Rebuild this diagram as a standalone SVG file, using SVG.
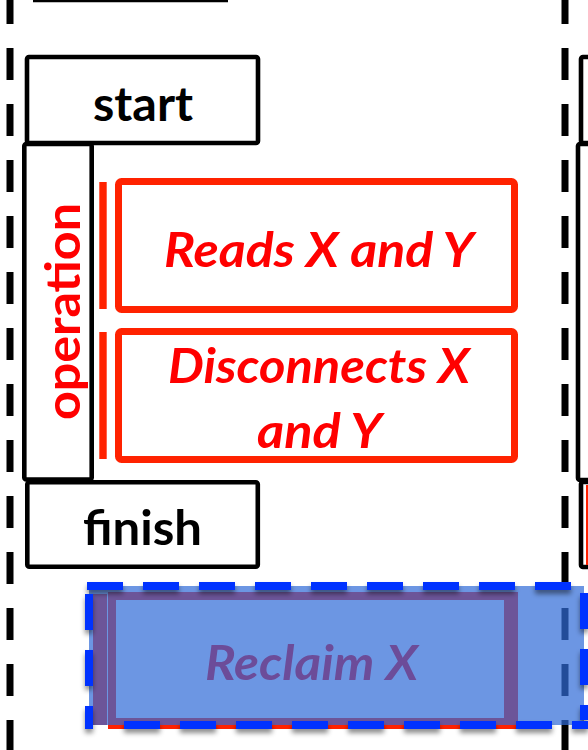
<svg xmlns="http://www.w3.org/2000/svg" width="588" height="750" viewBox="0 0 588 750">
<style>
.lane{stroke:#000;stroke-width:7;stroke-dasharray:32 24;stroke-dashoffset:8;fill:none}
.blk{fill:#fff;stroke:#000;stroke-width:4.6}
.redbox{fill:#fff;stroke:#FF2200;stroke-width:7}
.bar{fill:#FF2200}
.lbl{font-family:Lato,"Liberation Sans",sans-serif;font-weight:bold;font-size:47px;text-anchor:middle}
.it{font-style:italic;fill:#FF0000}
.bd{stroke:#0033FF;stroke-width:8;stroke-dasharray:36 20;fill:none}
</style>
<defs>
<filter id="sh" x="-10%" y="-20%" width="120%" height="150%">
<feDropShadow dx="0" dy="4" stdDeviation="2.5" flood-color="#000" flood-opacity="0.45"/>
</filter>
</defs>
<g id="lanes">
<line class="lane" x1="10" y1="0" x2="10" y2="750"/>
<line class="lane" x1="565" y1="0" x2="565" y2="750"/>
<line x1="33" y1="0" x2="228" y2="0" stroke="#000" stroke-width="4.5"/>
</g>
<g id="next-column">
<rect class="blk" x="581" y="57" width="40" height="86" rx="2"/>
<rect class="blk" x="578" y="144" width="40" height="336" rx="2"/>
<rect class="blk" x="581" y="482" width="40" height="85" rx="2"/>
<rect class="bar" x="586" y="485" width="10" height="80"/>
</g>
<g id="start">
<rect class="blk" x="27" y="57" width="231" height="86" rx="2"/>
<text class="lbl" x="143" y="121" textLength="100" lengthAdjust="spacingAndGlyphs">start</text>
</g>
<g id="operation">
<rect class="blk" x="24.3" y="144" width="67.4" height="335.5" rx="2"/>
<text class="lbl" fill="#FF0000" transform="translate(80,311.5) rotate(-90)" textLength="217" lengthAdjust="spacingAndGlyphs">operation</text>
</g>
<g id="finish">
<rect class="blk" x="27.3" y="482.3" width="230.5" height="84.5" rx="2"/>
<text class="lbl" x="142.5" y="545" textLength="119" lengthAdjust="spacingAndGlyphs">finish</text>
</g>
<g id="reads">
<rect class="bar" x="99.3" y="182" width="7.4" height="127"/>
<rect class="redbox" x="118.5" y="181.5" width="396" height="128" rx="3"/>
<text class="lbl it" x="319" y="267" textLength="310" lengthAdjust="spacingAndGlyphs">Reads X and Y</text>
</g>
<g id="disconnects">
<rect class="bar" x="99.3" y="332" width="7.4" height="127"/>
<rect class="redbox" x="118.5" y="331.5" width="396" height="128" rx="3"/>
<text class="lbl it" x="319" y="383" textLength="302" lengthAdjust="spacingAndGlyphs">Disconnects X</text>
<text class="lbl it" x="319.5" y="448" textLength="125" lengthAdjust="spacingAndGlyphs">and Y</text>
</g>
<g id="reclaim">
<rect class="bar" x="93" y="594" width="14" height="131"/>
<path fill="#FF2200" fill-rule="evenodd" d="M108 592 H518 V729 H108 Z M116 600 V718 H504 V600 Z"/>
<text class="lbl it" x="311.5" y="680" textLength="213" lengthAdjust="spacingAndGlyphs">Reclaim X</text>
</g>
<g id="reclaim-overlay">
<rect x="89" y="586" width="495" height="139" fill="rgb(48,107,215)" fill-opacity="0.71"/>
<g filter="url(#sh)">
<line class="bd" x1="87" y1="586" x2="588" y2="586"/>
<line class="bd" x1="89" y1="594" x2="89" y2="729"/>
<line class="bd" x1="124" y1="725" x2="588" y2="725"/>
<line class="bd" x1="584" y1="593" x2="584" y2="720"/>
</g>
</g>
</svg>
